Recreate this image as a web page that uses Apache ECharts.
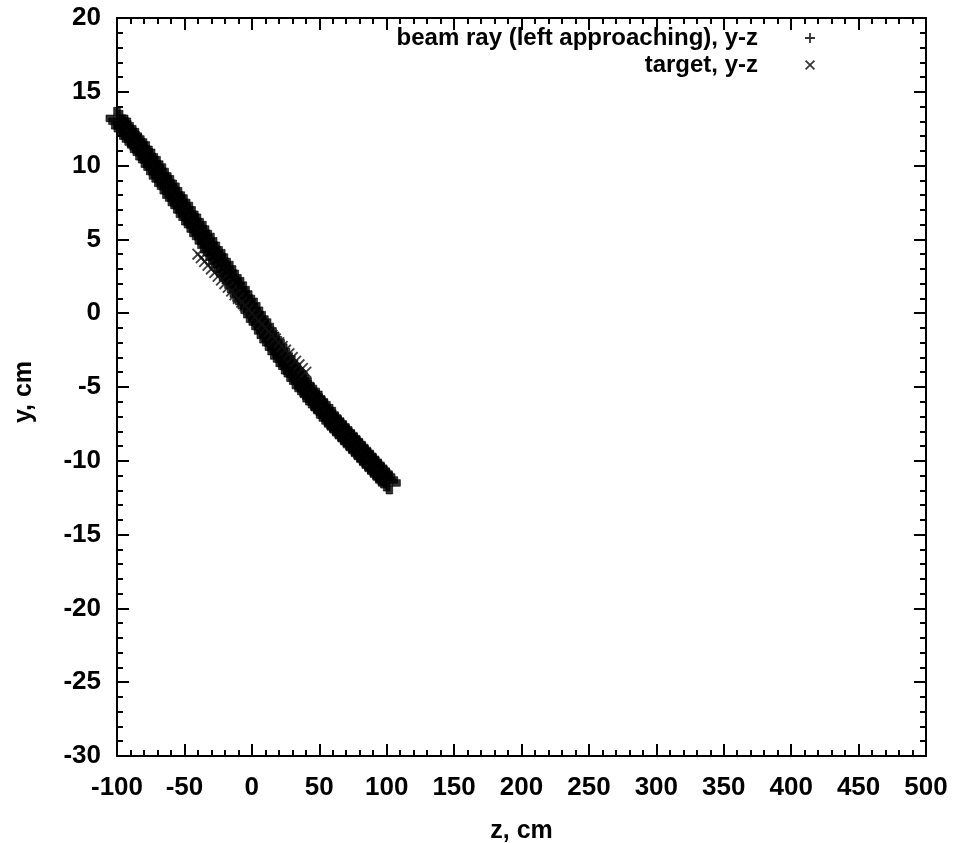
<!DOCTYPE html>
<html>
<head>
<meta charset="utf-8">
<title>beam ray and target, y-z</title>
<script src="https://cdn.jsdelivr.net/npm/echarts@6/dist/echarts.min.js"></script>
<style>
  html, body { margin: 0; padding: 0; background: #fff; }
  #chart { width: 957px; height: 843px; }
</style>
</head>
<body>
<div id="chart"></div>
<script>
// Beam ray track in the y-z plane (cm)
const beamZ = [
  -100, -98, -96, -94, -92, -90, -88, -86, -84, -82,
  -80, -78, -76, -74, -72, -70, -68, -66, -64, -62,
  -60, -58, -56, -54, -52, -50, -48, -46, -44, -42,
  -40, -38, -36, -34, -32, -30, -28, -26, -24, -22,
  -20, -18, -16, -14, -12, -10, -8, -6, -4, -2,
  0, 2, 4, 6, 8, 10, 12, 14, 16, 18,
  20, 22, 24, 26, 28, 30, 32, 34, 36, 38,
  40, 42, 44, 46, 48, 50, 52, 54, 56, 58,
  60, 62, 64, 66, 68, 70, 72, 74, 76, 78,
  80, 82, 84, 86, 88, 90, 92, 94, 96, 98,
  100, 102
];
const beamY = [
  13.2, 13.0, 12.7, 12.5, 12.3, 12.0, 11.8, 11.6, 11.4, 11.1,
  10.9, 10.6, 10.4, 10.1, 9.9, 9.6, 9.3, 9.1, 8.8, 8.6,
  8.3, 8.0, 7.8, 7.5, 7.3, 7.0, 6.7, 6.5, 6.2, 6.0,
  5.7, 5.4, 5.2, 4.9, 4.6, 4.3, 4.1, 3.8, 3.5, 3.3,
  3.0, 2.7, 2.4, 2.2, 1.9, 1.6, 1.3, 1.0, 0.8, 0.5,
  0.2, -0.1, -0.4, -0.6, -0.9, -1.2, -1.5, -1.8, -2.0, -2.3,
  -2.6, -2.9, -3.1, -3.4, -3.6, -3.9, -4.1, -4.4, -4.6, -4.9,
  -5.1, -5.3, -5.5, -5.8, -6.0, -6.2, -6.4, -6.6, -6.9, -7.1,
  -7.3, -7.5, -7.7, -7.9, -8.1, -8.3, -8.5, -8.7, -8.9, -9.1,
  -9.3, -9.5, -9.7, -9.9, -10.1, -10.3, -10.5, -10.7, -10.9, -11.1,
  -11.3, -11.5
];

// Target surface samples in the y-z plane (cm)
const targetZ = [
  -40, -37.5, -35, -32.5, -30, -27.5, -25, -22.5, -20, -17.5, -15,
  -12.5, -10, -7.5, -5, -2.5, 0, 2.5, 5, 7.5, 10, 12.5,
  15, 17.5, 20, 22.5, 25, 27.5, 30, 32.5, 35, 37.5, 40
];
const targetY = [
  4.0, 3.75, 3.5, 3.25, 3.0, 2.75, 2.5, 2.25, 2.0, 1.75, 1.5,
  1.25, 1.0, 0.75, 0.5, 0.25, 0.0, -0.25, -0.5, -0.75, -1.0, -1.25,
  -1.5, -1.75, -2.0, -2.25, -2.5, -2.75, -3.0, -3.25, -3.5, -3.75, -4.0
];

// Axis settings
const zRange = { min: -100, max: 500, step: 50 };
const yRange = { min: -30, max: 20, step: 5 };
const seriesNames = ['beam ray (left approaching), y-z', 'target, y-z'];
const axisNames = { x: 'z, cm', y: 'y, cm' };

const FONT = '"Liberation Sans", Arial, Helvetica, sans-serif';
// point glyphs: heavy ones for the plotted tracks, thin ones for the key
const PLUS_MARK = 'path://M0,3.5 L10,3.5 L10,6.5 L0,6.5 Z M3.5,0 L6.5,0 L6.5,10 L3.5,10 Z';
const CROSS_MARK = 'path://M0,1.1 L1.1,0 L10,8.9 L8.9,10 Z M8.9,0 L10,1.1 L1.1,10 L0,8.9 Z';
const PLUS_KEY = 'path://M0,4.1 L10,4.1 L10,5.9 L0,5.9 Z M4.1,0 L5.9,0 L5.9,10 L4.1,10 Z';
const CROSS_KEY = 'path://M0,1.2 L1.2,0 L10,8.8 L8.8,10 Z M8.8,0 L10,1.2 L1.2,10 L0,8.8 Z';

const pairs = (xs, ys) => xs.map((x, i) => [x, ys[i]]);

function valueAxis(range, extra) {
  return Object.assign({
    type: 'value',
    min: range.min,
    max: range.max,
    interval: range.step,
    splitLine: { show: false },
    axisLine: { show: true, onZero: false, lineStyle: { color: '#000', width: 2 } },
    axisTick: { show: true, inside: true, length: 12, lineStyle: { color: '#000', width: 2 } },
    minorTick: { show: true, splitNumber: 5, length: 6, lineStyle: { color: '#000', width: 2 } },
    axisLabel: { show: false }
  }, extra);
}

const labelStyle = {
  show: true,
  color: '#000',
  fontFamily: FONT,
  fontSize: 26,
  fontWeight: 'bold',
  interval: 0,
  showMinLabel: true,
  showMaxLabel: true,
  hideOverlap: false
};

const nameStyle = { color: '#000', fontFamily: FONT, fontSize: 25, fontWeight: 'bold' };

const chart = echarts.init(document.getElementById('chart'), null, { renderer: 'canvas' });

chart.setOption({
  animation: false,
  backgroundColor: '#fff',
  grid: {
    left: 117, right: 31, top: 18, bottom: 87,
    containLabel: false,
    outerBoundsMode: 'none'
  },
  xAxis: [
    valueAxis(zRange, {
      position: 'bottom',
      name: axisNames.x,
      nameLocation: 'middle',
      nameGap: 63,
      nameTextStyle: nameStyle,
      axisLabel: Object.assign({}, labelStyle, { margin: 19 })
    }),
    valueAxis(zRange, { position: 'top' })
  ],
  yAxis: [
    valueAxis(yRange, {
      position: 'left',
      name: axisNames.y,
      nameLocation: 'middle',
      nameGap: 80,
      nameRotate: 90,
      nameTextStyle: Object.assign({}, nameStyle, { padding: [0, 10, 0, 0] }),
      axisLabel: Object.assign({}, labelStyle, { margin: 16, padding: [6, 0, 0, 0] })
    }),
    valueAxis(yRange, { position: 'right' })
  ],
  legend: {
    orient: 'vertical',
    align: 'right',
    right: 137,
    top: 21,
    itemWidth: 10,
    itemHeight: 10,
    itemGap: 3,
    itemStyle: { color: '#000', borderWidth: 0 },
    data: [
      { name: seriesNames[0], icon: PLUS_KEY },
      { name: seriesNames[1], icon: CROSS_KEY }
    ],
    textStyle: {
      color: '#000',
      fontFamily: FONT,
      fontSize: 24,
      fontWeight: 'bold',
      padding: [0, 42, 0, 0]
    },
    selectedMode: false
  },
  series: [
    {
      name: seriesNames[0],
      type: 'scatter',
      xAxisIndex: 0,
      yAxisIndex: 0,
      symbol: PLUS_MARK,
      symbolSize: 22,
      clip: false,
      itemStyle: { color: '#000', borderColor: '#000', borderWidth: 0.8 },
      data: pairs(beamZ, beamY)
    },
    {
      name: seriesNames[1],
      type: 'scatter',
      xAxisIndex: 0,
      yAxisIndex: 0,
      symbol: CROSS_MARK,
      symbolSize: 12,
      clip: false,
      itemStyle: { color: '#111' },
      data: pairs(targetZ, targetY)
    }
  ]
});
</script>
</body>
</html>
